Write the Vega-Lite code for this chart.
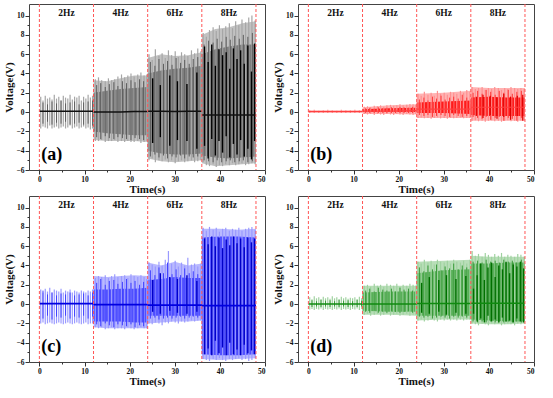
{
"$schema":"https://vega.github.io/schema/vega-lite/v6.json",
"padding":{"left":3,"top":3,"right":0,"bottom":0},
"background":"white",
"config":{"view":{"stroke":"#444","strokeWidth":1},
"font":"Liberation Serif",
"axis":{"labelFont":"Liberation Serif","labelFontWeight":"bold","labelFontSize":7.5,"titleFont":"Liberation Serif","titleFontWeight":"bold","titleFontSize":11,"domain":false,"grid":false,"tickColor":"#333","labelColor":"#111","titleColor":"#111","labelPadding":1,"titlePadding":1,"labelOverlap":false,"labelBound":false,"format":"d"}},
"datasets":{
"env":[
{"p":"a","g":1,"t":0,"h":0.1,"l":0.1,"h2":0.1,"l2":0.1,"z":0.1},{"p":"a","g":1,"t":12,"h":0.1,"l":0.1,"h2":0.1,"l2":0.1,"z":0.1},
{"p":"a","g":2,"t":12,"h":3.3,"l":-2.9,"h2":2.0,"l2":-2.0,"z":0.0},{"p":"a","g":2,"t":15,"h":3.2,"l":-3.0,"h2":2.2,"l2":-2.2,"z":0.0},{"p":"a","g":2,"t":18,"h":3.5,"l":-3.0,"h2":2.4,"l2":-2.3,"z":0.0},{"p":"a","g":2,"t":21,"h":3.8,"l":-3.0,"h2":2.5,"l2":-2.4,"z":0.05},{"p":"a","g":2,"t":24,"h":3.8,"l":-3.1,"h2":2.6,"l2":-2.4,"z":0.05},
{"p":"a","g":3,"t":24,"h":5.6,"l":-4.8,"h2":4.0,"l2":-4.0,"z":0.1},{"p":"a","g":3,"t":27,"h":6.0,"l":-5.1,"h2":4.3,"l2":-4.3,"z":0.1},{"p":"a","g":3,"t":30,"h":5.8,"l":-5.2,"h2":4.5,"l2":-4.4,"z":0.05},{"p":"a","g":3,"t":33,"h":5.9,"l":-5.1,"h2":4.6,"l2":-4.4,"z":0.1},{"p":"a","g":3,"t":36,"h":6.2,"l":-5.0,"h2":4.8,"l2":-4.3,"z":0.1},
{"p":"a","g":4,"t":36,"h":8.0,"l":-5.3,"h2":6.0,"l2":-4.5,"z":-0.3},{"p":"a","g":4,"t":39,"h":8.6,"l":-5.6,"h2":6.5,"l2":-4.7,"z":-0.3},{"p":"a","g":4,"t":42,"h":8.8,"l":-5.5,"h2":6.8,"l2":-4.8,"z":-0.3},{"p":"a","g":4,"t":45,"h":9.2,"l":-5.4,"h2":7.0,"l2":-4.7,"z":-0.3},{"p":"a","g":4,"t":48,"h":9.4,"l":-5.3,"h2":7.0,"l2":-4.6,"z":-0.3},
{"p":"b","g":1,"t":0,"h":0.2,"l":-0.05,"h2":0.1,"l2":0.0,"z":0.05},{"p":"b","g":1,"t":12,"h":0.2,"l":-0.05,"h2":0.1,"l2":0.0,"z":0.05},
{"p":"b","g":2,"t":12,"h":0.5,"l":-0.2,"h2":0.3,"l2":0.0,"z":0.1},{"p":"b","g":2,"t":18,"h":0.7,"l":-0.2,"h2":0.4,"l2":0.0,"z":0.1},{"p":"b","g":2,"t":24,"h":0.8,"l":-0.25,"h2":0.45,"l2":0.0,"z":0.15},
{"p":"b","g":3,"t":24,"h":1.9,"l":-0.6,"h2":1.0,"l2":-0.1,"z":0.3},{"p":"b","g":3,"t":30,"h":2.0,"l":-0.6,"h2":1.1,"l2":-0.1,"z":0.3},{"p":"b","g":3,"t":36,"h":2.2,"l":-0.6,"h2":1.2,"l2":-0.2,"z":0.3},
{"p":"b","g":4,"t":36,"h":2.6,"l":-0.9,"h2":1.5,"l2":-0.3,"z":0.5},{"p":"b","g":4,"t":40,"h":2.5,"l":-0.9,"h2":1.6,"l2":-0.4,"z":0.5},{"p":"b","g":4,"t":44,"h":2.5,"l":-0.9,"h2":1.5,"l2":-0.4,"z":0.5},{"p":"b","g":4,"t":48,"h":2.5,"l":-0.9,"h2":1.5,"l2":-0.4,"z":0.5},
{"p":"c","g":1,"t":0,"h":0.05,"l":0.05,"h2":0.05,"l2":0.05,"z":0.05},{"p":"c","g":1,"t":12,"h":0.05,"l":0.05,"h2":0.05,"l2":0.05,"z":0.05},
{"p":"c","g":2,"t":12,"h":2.9,"l":-2.4,"h2":1.5,"l2":-1.8,"z":-0.05},{"p":"c","g":2,"t":15,"h":2.8,"l":-2.5,"h2":1.5,"l2":-1.8,"z":-0.05},{"p":"c","g":2,"t":18,"h":2.9,"l":-2.5,"h2":1.6,"l2":-1.8,"z":-0.05},{"p":"c","g":2,"t":21,"h":3.0,"l":-2.5,"h2":1.6,"l2":-1.9,"z":-0.05},{"p":"c","g":2,"t":24,"h":2.9,"l":-2.5,"h2":1.7,"l2":-1.9,"z":-0.05},
{"p":"c","g":3,"t":24,"h":4.3,"l":-2.0,"h2":2.5,"l2":-1.2,"z":-0.1},{"p":"c","g":3,"t":27,"h":4.0,"l":-1.9,"h2":2.6,"l2":-1.2,"z":-0.1},{"p":"c","g":3,"t":30,"h":4.4,"l":-1.8,"h2":2.8,"l2":-1.2,"z":-0.1},{"p":"c","g":3,"t":33,"h":4.0,"l":-1.8,"h2":2.7,"l2":-1.2,"z":-0.1},{"p":"c","g":3,"t":36,"h":4.2,"l":-1.7,"h2":2.7,"l2":-1.2,"z":-0.1},
{"p":"c","g":4,"t":36,"h":7.8,"l":-5.7,"h2":6.9,"l2":-5.2,"z":-0.15},{"p":"c","g":4,"t":40,"h":7.8,"l":-5.8,"h2":7.0,"l2":-5.3,"z":-0.15},{"p":"c","g":4,"t":44,"h":7.7,"l":-5.7,"h2":7.0,"l2":-5.3,"z":-0.15},{"p":"c","g":4,"t":48,"h":7.8,"l":-5.6,"h2":6.9,"l2":-5.2,"z":-0.15},
{"p":"d","g":1,"t":0,"h":0.0,"l":0.0,"h2":0.0,"l2":0.0,"z":0.0},{"p":"d","g":1,"t":12,"h":0.0,"l":0.0,"h2":0.0,"l2":0.0,"z":0.0},
{"p":"d","g":2,"t":12,"h":1.9,"l":-1.1,"h2":1.2,"l2":-0.7,"z":0.0},{"p":"d","g":2,"t":18,"h":1.9,"l":-1.1,"h2":1.3,"l2":-0.8,"z":0.0},{"p":"d","g":2,"t":24,"h":1.9,"l":-1.2,"h2":1.3,"l2":-0.8,"z":0.0},
{"p":"d","g":3,"t":24,"h":4.4,"l":-1.7,"h2":3.2,"l2":-1.2,"z":0.05},{"p":"d","g":3,"t":30,"h":4.5,"l":-1.6,"h2":3.5,"l2":-1.2,"z":0.05},{"p":"d","g":3,"t":36,"h":4.6,"l":-1.6,"h2":3.6,"l2":-1.2,"z":0.05},
{"p":"d","g":4,"t":36,"h":5.0,"l":-2.0,"h2":4.2,"l2":-1.6,"z":0.1},{"p":"d","g":4,"t":40,"h":4.9,"l":-2.1,"h2":4.2,"l2":-1.7,"z":0.1},{"p":"d","g":4,"t":44,"h":4.9,"l":-2.1,"h2":4.3,"l2":-1.8,"z":0.1},{"p":"d","g":4,"t":48,"h":4.9,"l":-2.0,"h2":4.3,"l2":-1.8,"z":0.1}
],
"spk":[
{"p":"a","k":"l","t":0.3,"l":-1.7,"h":1.6},{"p":"a","k":"l","t":0.8,"l":-1.5,"h":1.2},{"p":"a","k":"l","t":1.3,"l":-1.6,"h":1.7},{"p":"a","k":"l","t":1.8,"l":-1.7,"h":1.4},{"p":"a","k":"l","t":2.3,"l":-1.4,"h":1.5},{"p":"a","k":"l","t":2.8,"l":-1.7,"h":1.3},{"p":"a","k":"l","t":3.3,"l":-1.6,"h":1.8},{"p":"a","k":"l","t":3.8,"l":-1.5,"h":1.4},{"p":"a","k":"l","t":4.3,"l":-1.7,"h":1.6},{"p":"a","k":"l","t":4.8,"l":-1.6,"h":1.2},{"p":"a","k":"l","t":5.3,"l":-1.5,"h":1.7},{"p":"a","k":"l","t":5.8,"l":-1.7,"h":1.5},{"p":"a","k":"l","t":6.3,"l":-1.6,"h":1.4},{"p":"a","k":"l","t":6.8,"l":-1.4,"h":1.8},{"p":"a","k":"l","t":7.3,"l":-1.7,"h":1.3},{"p":"a","k":"l","t":7.8,"l":-1.6,"h":1.6},{"p":"a","k":"l","t":8.3,"l":-1.5,"h":1.5},{"p":"a","k":"l","t":8.8,"l":-1.7,"h":1.7},{"p":"a","k":"l","t":9.3,"l":-1.6,"h":1.2},{"p":"a","k":"l","t":9.8,"l":-1.5,"h":1.6},{"p":"a","k":"l","t":10.3,"l":-1.7,"h":1.4},{"p":"a","k":"l","t":10.8,"l":-1.6,"h":1.8},{"p":"a","k":"l","t":11.3,"l":-1.8,"h":1.5},{"p":"a","k":"l","t":11.8,"l":-1.7,"h":1.7},
{"p":"a","k":"m","t":0.8,"l":-1.2,"h":1.0},{"p":"a","k":"m","t":1.8,"l":-1.0,"h":0.8},{"p":"a","k":"m","t":2.8,"l":-1.3,"h":1.1},{"p":"a","k":"m","t":3.8,"l":-1.1,"h":0.9},{"p":"a","k":"m","t":4.8,"l":-1.2,"h":1.2},{"p":"a","k":"m","t":5.8,"l":-1.0,"h":0.9},{"p":"a","k":"m","t":6.8,"l":-1.3,"h":1.0},{"p":"a","k":"m","t":7.8,"l":-1.2,"h":1.1},{"p":"a","k":"m","t":8.8,"l":-1.1,"h":0.8},{"p":"a","k":"m","t":9.8,"l":-1.3,"h":1.0},{"p":"a","k":"m","t":10.8,"l":-1.2,"h":1.1},{"p":"a","k":"m","t":11.8,"l":-1.4,"h":1.2},
{"p":"a","k":"l","t":12.4,"l":-3.0,"h":3.4},{"p":"a","k":"l","t":13.1,"l":-3.0,"h":3.6},{"p":"a","k":"l","t":13.8,"l":-2.9,"h":3.3},{"p":"a","k":"l","t":14.6,"l":-3.1,"h":3.2},{"p":"a","k":"l","t":15.3,"l":-3.0,"h":3.5},{"p":"a","k":"l","t":16.0,"l":-3.0,"h":3.3},{"p":"a","k":"l","t":16.7,"l":-2.9,"h":3.4},{"p":"a","k":"l","t":17.4,"l":-3.1,"h":3.7},{"p":"a","k":"l","t":18.2,"l":-3.0,"h":3.9},{"p":"a","k":"l","t":18.9,"l":-3.1,"h":3.6},{"p":"a","k":"l","t":19.6,"l":-3.0,"h":3.8},{"p":"a","k":"l","t":20.3,"l":-3.1,"h":4.0},{"p":"a","k":"l","t":21.0,"l":-3.1,"h":3.7},{"p":"a","k":"l","t":21.8,"l":-3.0,"h":3.9},{"p":"a","k":"l","t":22.5,"l":-3.2,"h":4.1},{"p":"a","k":"l","t":23.2,"l":-3.1,"h":3.8},{"p":"a","k":"l","t":23.8,"l":-3.0,"h":3.9},
{"p":"a","k":"m","t":12.7,"l":-2.6,"h":2.8},{"p":"a","k":"m","t":13.6,"l":-2.8,"h":3.0},{"p":"a","k":"m","t":14.6,"l":-2.5,"h":2.6},{"p":"a","k":"m","t":15.5,"l":-2.7,"h":2.9},{"p":"a","k":"m","t":16.5,"l":-2.8,"h":3.1},{"p":"a","k":"m","t":17.4,"l":-2.6,"h":2.7},{"p":"a","k":"m","t":18.4,"l":-2.7,"h":3.2},{"p":"a","k":"m","t":19.3,"l":-2.8,"h":3.0},{"p":"a","k":"m","t":20.3,"l":-2.9,"h":3.3},{"p":"a","k":"m","t":21.2,"l":-2.7,"h":3.1},{"p":"a","k":"m","t":22.2,"l":-2.8,"h":3.4},{"p":"a","k":"m","t":23.1,"l":-2.9,"h":3.2},
{"p":"a","k":"l","t":24.3,"l":-5.0,"h":6.0},{"p":"a","k":"l","t":25.0,"l":-4.8,"h":5.4},{"p":"a","k":"l","t":25.7,"l":-5.2,"h":6.5},{"p":"a","k":"l","t":26.5,"l":-5.0,"h":5.8},{"p":"a","k":"l","t":27.2,"l":-5.1,"h":6.1},{"p":"a","k":"l","t":27.9,"l":-4.9,"h":5.6},{"p":"a","k":"l","t":28.6,"l":-5.2,"h":6.4},{"p":"a","k":"l","t":29.3,"l":-5.0,"h":5.9},{"p":"a","k":"l","t":30.1,"l":-5.3,"h":6.3},{"p":"a","k":"l","t":30.8,"l":-5.1,"h":5.7},{"p":"a","k":"l","t":31.5,"l":-5.0,"h":6.2},{"p":"a","k":"l","t":32.2,"l":-5.2,"h":6.0},{"p":"a","k":"l","t":32.9,"l":-5.1,"h":5.8},{"p":"a","k":"l","t":33.7,"l":-5.0,"h":6.4},{"p":"a","k":"l","t":34.4,"l":-5.2,"h":6.1},{"p":"a","k":"l","t":35.1,"l":-5.1,"h":6.6},{"p":"a","k":"l","t":35.8,"l":-5.0,"h":6.3},
{"p":"a","k":"m","t":24.6,"l":-4.6,"h":5.2},{"p":"a","k":"m","t":25.6,"l":-4.4,"h":4.8},{"p":"a","k":"m","t":26.5,"l":-4.7,"h":5.5},{"p":"a","k":"m","t":27.5,"l":-4.5,"h":5.0},{"p":"a","k":"m","t":28.4,"l":-4.8,"h":5.3},{"p":"a","k":"m","t":29.4,"l":-4.6,"h":4.9},{"p":"a","k":"m","t":30.3,"l":-4.7,"h":5.6},{"p":"a","k":"m","t":31.3,"l":-4.5,"h":5.1},{"p":"a","k":"m","t":32.2,"l":-4.8,"h":5.4},{"p":"a","k":"m","t":33.2,"l":-4.6,"h":5.0},{"p":"a","k":"m","t":34.1,"l":-4.7,"h":5.5},{"p":"a","k":"m","t":35.1,"l":-4.6,"h":5.7},
{"p":"a","k":"d","t":25.1,"l":-3.2,"h":3.5},{"p":"a","k":"d","t":26.8,"l":-2.6,"h":2.8},{"p":"a","k":"d","t":28.9,"l":-3.5,"h":3.8},{"p":"a","k":"d","t":30.6,"l":-2.9,"h":3.2},{"p":"a","k":"d","t":32.7,"l":-3.0,"h":2.9},{"p":"a","k":"d","t":34.9,"l":-3.8,"h":4.1},
{"p":"a","k":"l","t":36.3,"l":-5.2,"h":8.2},{"p":"a","k":"l","t":37.0,"l":-5.5,"h":7.8},{"p":"a","k":"l","t":37.7,"l":-5.6,"h":8.5},{"p":"a","k":"l","t":38.5,"l":-5.4,"h":8.8},{"p":"a","k":"l","t":39.2,"l":-5.7,"h":8.4},{"p":"a","k":"l","t":39.9,"l":-5.5,"h":9.0},{"p":"a","k":"l","t":40.6,"l":-5.6,"h":8.6},{"p":"a","k":"l","t":41.3,"l":-5.4,"h":8.9},{"p":"a","k":"l","t":42.1,"l":-5.5,"h":9.2},{"p":"a","k":"l","t":42.8,"l":-5.3,"h":8.7},{"p":"a","k":"l","t":43.5,"l":-5.5,"h":9.4},{"p":"a","k":"l","t":44.2,"l":-5.4,"h":9.0},{"p":"a","k":"l","t":44.9,"l":-5.3,"h":9.6},{"p":"a","k":"l","t":45.7,"l":-5.5,"h":9.3},{"p":"a","k":"l","t":46.4,"l":-5.4,"h":9.8},{"p":"a","k":"l","t":47.1,"l":-5.3,"h":10.0},{"p":"a","k":"l","t":47.8,"l":-5.4,"h":9.5},
{"p":"a","k":"m","t":36.5,"l":-5.0,"h":7.0},{"p":"a","k":"m","t":37.5,"l":-5.1,"h":7.4},{"p":"a","k":"m","t":38.5,"l":-5.2,"h":7.2},{"p":"a","k":"m","t":39.4,"l":-5.0,"h":7.6},{"p":"a","k":"m","t":40.4,"l":-5.2,"h":7.3},{"p":"a","k":"m","t":41.4,"l":-5.1,"h":7.8},{"p":"a","k":"m","t":42.3,"l":-5.0,"h":7.5},{"p":"a","k":"m","t":43.3,"l":-5.2,"h":7.9},{"p":"a","k":"m","t":44.3,"l":-5.1,"h":7.6},{"p":"a","k":"m","t":45.2,"l":-5.0,"h":8.0},{"p":"a","k":"m","t":46.2,"l":-5.2,"h":7.8},{"p":"a","k":"m","t":47.2,"l":-5.1,"h":8.2},
{"p":"a","k":"d","t":36.6,"l":-3.5,"h":6.8},{"p":"a","k":"d","t":37.4,"l":-4.8,"h":5.2},{"p":"a","k":"d","t":38.2,"l":-2.8,"h":7.0},{"p":"a","k":"d","t":39.0,"l":-4.5,"h":4.8},{"p":"a","k":"d","t":39.8,"l":-3.0,"h":6.5},{"p":"a","k":"d","t":40.6,"l":-4.2,"h":5.9},{"p":"a","k":"d","t":41.4,"l":-2.5,"h":6.2},{"p":"a","k":"d","t":42.2,"l":-4.7,"h":4.5},{"p":"a","k":"d","t":43.0,"l":-3.3,"h":6.6},{"p":"a","k":"d","t":43.8,"l":-4.4,"h":5.5},{"p":"a","k":"d","t":44.6,"l":-2.9,"h":6.4},{"p":"a","k":"d","t":45.4,"l":-4.6,"h":5.0},{"p":"a","k":"d","t":46.2,"l":-3.8,"h":6.9},{"p":"a","k":"d","t":47.0,"l":-4.9,"h":4.2},{"p":"a","k":"d","t":47.7,"l":-3.0,"h":7.1},

{"p":"b","k":"l","t":0.3,"l":-0.1,"h":0.2},{"p":"b","k":"l","t":1.3,"l":-0.1,"h":0.25},{"p":"b","k":"l","t":2.3,"l":-0.1,"h":0.15},{"p":"b","k":"l","t":3.3,"l":-0.1,"h":0.2},{"p":"b","k":"l","t":4.3,"l":-0.1,"h":0.25},{"p":"b","k":"l","t":5.3,"l":-0.1,"h":0.2},{"p":"b","k":"l","t":6.3,"l":-0.1,"h":0.15},{"p":"b","k":"l","t":7.3,"l":-0.1,"h":0.25},{"p":"b","k":"l","t":8.3,"l":-0.1,"h":0.2},{"p":"b","k":"l","t":9.3,"l":-0.1,"h":0.2},{"p":"b","k":"l","t":10.3,"l":-0.1,"h":0.25},{"p":"b","k":"l","t":11.3,"l":-0.1,"h":0.2},
{"p":"b","k":"l","t":12.4,"l":-0.2,"h":0.55},{"p":"b","k":"l","t":13.1,"l":-0.25,"h":0.6},{"p":"b","k":"l","t":13.8,"l":-0.2,"h":0.5},{"p":"b","k":"l","t":14.6,"l":-0.3,"h":0.65},{"p":"b","k":"l","t":15.3,"l":-0.2,"h":0.6},{"p":"b","k":"l","t":16.0,"l":-0.25,"h":0.7},{"p":"b","k":"l","t":16.7,"l":-0.3,"h":0.55},{"p":"b","k":"l","t":17.4,"l":-0.2,"h":0.7},{"p":"b","k":"l","t":18.2,"l":-0.25,"h":0.75},{"p":"b","k":"l","t":18.9,"l":-0.3,"h":0.65},{"p":"b","k":"l","t":19.6,"l":-0.2,"h":0.7},{"p":"b","k":"l","t":20.3,"l":-0.25,"h":0.8},{"p":"b","k":"l","t":21.0,"l":-0.3,"h":0.7},{"p":"b","k":"l","t":21.8,"l":-0.2,"h":0.75},{"p":"b","k":"l","t":22.5,"l":-0.25,"h":0.85},{"p":"b","k":"l","t":23.2,"l":-0.3,"h":0.8},{"p":"b","k":"l","t":23.8,"l":-0.2,"h":0.75},
{"p":"b","k":"m","t":12.7,"l":-0.1,"h":0.4},{"p":"b","k":"m","t":13.6,"l":-0.1,"h":0.45},{"p":"b","k":"m","t":14.6,"l":-0.1,"h":0.35},{"p":"b","k":"m","t":15.5,"l":-0.1,"h":0.5},{"p":"b","k":"m","t":16.5,"l":-0.1,"h":0.4},{"p":"b","k":"m","t":17.4,"l":-0.1,"h":0.45},{"p":"b","k":"m","t":18.4,"l":-0.1,"h":0.5},{"p":"b","k":"m","t":19.3,"l":-0.1,"h":0.4},{"p":"b","k":"m","t":20.3,"l":-0.1,"h":0.55},{"p":"b","k":"m","t":21.2,"l":-0.1,"h":0.5},{"p":"b","k":"m","t":22.2,"l":-0.1,"h":0.45},{"p":"b","k":"m","t":23.1,"l":-0.1,"h":0.55},
{"p":"b","k":"l","t":24.3,"l":-0.6,"h":1.9},{"p":"b","k":"l","t":25.0,"l":-0.55,"h":1.7},{"p":"b","k":"l","t":25.7,"l":-0.65,"h":2.1},{"p":"b","k":"l","t":26.5,"l":-0.6,"h":1.8},{"p":"b","k":"l","t":27.2,"l":-0.7,"h":2.0},{"p":"b","k":"l","t":27.9,"l":-0.6,"h":1.7},{"p":"b","k":"l","t":28.6,"l":-0.55,"h":2.2},{"p":"b","k":"l","t":29.3,"l":-0.65,"h":1.9},{"p":"b","k":"l","t":30.1,"l":-0.6,"h":2.0},{"p":"b","k":"l","t":30.8,"l":-0.7,"h":1.8},{"p":"b","k":"l","t":31.5,"l":-0.6,"h":2.1},{"p":"b","k":"l","t":32.2,"l":-0.65,"h":2.0},{"p":"b","k":"l","t":32.9,"l":-0.6,"h":1.9},{"p":"b","k":"l","t":33.7,"l":-0.55,"h":2.2},{"p":"b","k":"l","t":34.4,"l":-0.65,"h":2.0},{"p":"b","k":"l","t":35.1,"l":-0.6,"h":2.3},{"p":"b","k":"l","t":35.8,"l":-0.6,"h":2.1},
{"p":"b","k":"m","t":24.6,"l":-0.3,"h":1.3},{"p":"b","k":"m","t":25.6,"l":-0.4,"h":1.5},{"p":"b","k":"m","t":26.5,"l":-0.3,"h":1.2},{"p":"b","k":"m","t":27.5,"l":-0.5,"h":1.6},{"p":"b","k":"m","t":28.4,"l":-0.4,"h":1.4},{"p":"b","k":"m","t":29.4,"l":-0.3,"h":1.7},{"p":"b","k":"m","t":30.3,"l":-0.4,"h":1.3},{"p":"b","k":"m","t":31.3,"l":-0.5,"h":1.5},{"p":"b","k":"m","t":32.2,"l":-0.3,"h":1.6},{"p":"b","k":"m","t":33.2,"l":-0.4,"h":1.4},{"p":"b","k":"m","t":34.1,"l":-0.5,"h":1.8},{"p":"b","k":"m","t":35.1,"l":-0.4,"h":1.5},
{"p":"b","k":"l","t":36.3,"l":-0.9,"h":2.6},{"p":"b","k":"l","t":37.0,"l":-0.85,"h":2.4},{"p":"b","k":"l","t":37.7,"l":-0.95,"h":2.5},{"p":"b","k":"l","t":38.5,"l":-0.9,"h":2.6},{"p":"b","k":"l","t":39.2,"l":-1.0,"h":2.3},{"p":"b","k":"l","t":39.9,"l":-0.9,"h":2.5},{"p":"b","k":"l","t":40.6,"l":-0.85,"h":2.4},{"p":"b","k":"l","t":41.3,"l":-0.95,"h":2.6},{"p":"b","k":"l","t":42.1,"l":-0.9,"h":2.5},{"p":"b","k":"l","t":42.8,"l":-1.0,"h":2.3},{"p":"b","k":"l","t":43.5,"l":-0.9,"h":2.5},{"p":"b","k":"l","t":44.2,"l":-0.85,"h":2.4},{"p":"b","k":"l","t":44.9,"l":-0.95,"h":2.6},{"p":"b","k":"l","t":45.7,"l":-0.9,"h":2.5},{"p":"b","k":"l","t":46.4,"l":-1.0,"h":2.4},{"p":"b","k":"l","t":47.1,"l":-0.9,"h":2.5},{"p":"b","k":"l","t":47.8,"l":-0.9,"h":2.4},
{"p":"b","k":"m","t":36.5,"l":-0.5,"h":2.0},{"p":"b","k":"m","t":37.5,"l":-0.6,"h":2.2},{"p":"b","k":"m","t":38.5,"l":-0.7,"h":1.9},{"p":"b","k":"m","t":39.4,"l":-0.5,"h":2.3},{"p":"b","k":"m","t":40.4,"l":-0.8,"h":2.1},{"p":"b","k":"m","t":41.4,"l":-0.6,"h":1.8},{"p":"b","k":"m","t":42.3,"l":-0.5,"h":2.2},{"p":"b","k":"m","t":43.3,"l":-0.9,"h":2.0},{"p":"b","k":"m","t":44.3,"l":-0.6,"h":2.3},{"p":"b","k":"m","t":45.2,"l":-0.7,"h":1.9},{"p":"b","k":"m","t":46.2,"l":-0.9,"h":2.1},{"p":"b","k":"m","t":47.2,"l":-0.6,"h":2.2},
{"p":"b","k":"d","t":37.2,"l":-0.4,"h":1.6},{"p":"b","k":"d","t":38.7,"l":-0.6,"h":1.8},{"p":"b","k":"d","t":40.3,"l":-0.3,"h":1.7},{"p":"b","k":"d","t":41.8,"l":-0.7,"h":1.5},{"p":"b","k":"d","t":43.3,"l":-0.5,"h":1.9},{"p":"b","k":"d","t":44.8,"l":-0.8,"h":1.6},{"p":"b","k":"d","t":46.3,"l":-0.4,"h":1.7},{"p":"b","k":"d","t":47.5,"l":-0.9,"h":1.8},

{"p":"c","k":"l","t":0.3,"l":-2.0,"h":1.5},{"p":"c","k":"l","t":0.8,"l":-1.9,"h":1.2},{"p":"c","k":"l","t":1.3,"l":-2.1,"h":1.6},{"p":"c","k":"l","t":1.8,"l":-2.0,"h":1.3},{"p":"c","k":"l","t":2.3,"l":-1.9,"h":1.7},{"p":"c","k":"l","t":2.8,"l":-2.0,"h":1.2},{"p":"c","k":"l","t":3.3,"l":-2.1,"h":1.5},{"p":"c","k":"l","t":3.8,"l":-2.0,"h":1.4},{"p":"c","k":"l","t":4.3,"l":-1.9,"h":1.3},{"p":"c","k":"l","t":4.8,"l":-2.0,"h":1.6},{"p":"c","k":"l","t":5.3,"l":-2.1,"h":1.2},{"p":"c","k":"l","t":5.8,"l":-2.0,"h":1.4},{"p":"c","k":"l","t":6.3,"l":-1.9,"h":1.3},{"p":"c","k":"l","t":6.8,"l":-2.0,"h":1.5},{"p":"c","k":"l","t":7.3,"l":-2.1,"h":1.2},{"p":"c","k":"l","t":7.8,"l":-2.0,"h":1.4},{"p":"c","k":"l","t":8.3,"l":-1.9,"h":1.3},{"p":"c","k":"l","t":8.8,"l":-2.0,"h":1.2},{"p":"c","k":"l","t":9.3,"l":-2.1,"h":1.4},{"p":"c","k":"l","t":9.8,"l":-2.0,"h":1.3},{"p":"c","k":"l","t":10.3,"l":-1.9,"h":1.2},{"p":"c","k":"l","t":10.8,"l":-2.1,"h":1.4},{"p":"c","k":"l","t":11.3,"l":-2.0,"h":1.3},{"p":"c","k":"l","t":11.8,"l":-2.0,"h":1.5},
{"p":"c","k":"m","t":0.8,"l":-1.5,"h":1.4},{"p":"c","k":"m","t":1.8,"l":-1.2,"h":1.0},{"p":"c","k":"m","t":2.8,"l":-1.6,"h":1.2},{"p":"c","k":"m","t":3.8,"l":-1.3,"h":0.9},{"p":"c","k":"m","t":4.8,"l":-1.4,"h":1.1},{"p":"c","k":"m","t":5.8,"l":-1.2,"h":1.0},{"p":"c","k":"m","t":6.8,"l":-1.5,"h":1.2},{"p":"c","k":"m","t":7.8,"l":-1.3,"h":0.9},{"p":"c","k":"m","t":8.8,"l":-1.4,"h":1.0},{"p":"c","k":"m","t":9.8,"l":-1.2,"h":1.1},{"p":"c","k":"m","t":10.8,"l":-1.5,"h":0.9},{"p":"c","k":"m","t":11.8,"l":-1.3,"h":1.2},
{"p":"c","k":"l","t":12.4,"l":-2.4,"h":2.7},{"p":"c","k":"l","t":13.1,"l":-2.5,"h":2.9},{"p":"c","k":"l","t":13.8,"l":-2.4,"h":2.8},{"p":"c","k":"l","t":14.6,"l":-2.6,"h":3.0},{"p":"c","k":"l","t":15.3,"l":-2.5,"h":2.7},{"p":"c","k":"l","t":16.0,"l":-2.4,"h":2.9},{"p":"c","k":"l","t":16.7,"l":-2.6,"h":3.1},{"p":"c","k":"l","t":17.4,"l":-2.5,"h":2.8},{"p":"c","k":"l","t":18.2,"l":-2.5,"h":2.9},{"p":"c","k":"l","t":18.9,"l":-2.6,"h":3.0},{"p":"c","k":"l","t":19.6,"l":-2.4,"h":2.7},{"p":"c","k":"l","t":20.3,"l":-2.5,"h":3.1},{"p":"c","k":"l","t":21.0,"l":-2.6,"h":2.9},{"p":"c","k":"l","t":21.8,"l":-2.5,"h":2.8},{"p":"c","k":"l","t":22.5,"l":-2.4,"h":3.0},{"p":"c","k":"l","t":23.2,"l":-2.5,"h":2.8},{"p":"c","k":"l","t":23.8,"l":-2.5,"h":2.6},
{"p":"c","k":"m","t":12.7,"l":-2.1,"h":2.2},{"p":"c","k":"m","t":13.6,"l":-2.3,"h":2.6},{"p":"c","k":"m","t":14.6,"l":-2.0,"h":2.0},{"p":"c","k":"m","t":15.5,"l":-2.2,"h":2.4},{"p":"c","k":"m","t":16.5,"l":-2.4,"h":2.5},{"p":"c","k":"m","t":17.4,"l":-2.1,"h":2.1},{"p":"c","k":"m","t":18.4,"l":-2.2,"h":2.3},{"p":"c","k":"m","t":19.3,"l":-2.3,"h":2.6},{"p":"c","k":"m","t":20.3,"l":-2.1,"h":2.2},{"p":"c","k":"m","t":21.2,"l":-2.4,"h":2.4},{"p":"c","k":"m","t":22.2,"l":-2.2,"h":2.0},{"p":"c","k":"m","t":23.1,"l":-2.3,"h":2.3},
{"p":"c","k":"l","t":24.3,"l":-2.0,"h":4.3},{"p":"c","k":"l","t":25.0,"l":-2.1,"h":4.1},{"p":"c","k":"l","t":25.7,"l":-1.9,"h":3.9},{"p":"c","k":"l","t":26.5,"l":-2.0,"h":4.4},{"p":"c","k":"l","t":27.2,"l":-2.2,"h":4.0},{"p":"c","k":"l","t":27.9,"l":-1.9,"h":4.6},{"p":"c","k":"l","t":28.6,"l":-2.0,"h":5.5},{"p":"c","k":"l","t":29.3,"l":-1.8,"h":4.2},{"p":"c","k":"l","t":30.1,"l":-1.9,"h":4.5},{"p":"c","k":"l","t":30.8,"l":-2.0,"h":3.9},{"p":"c","k":"l","t":31.5,"l":-1.8,"h":4.3},{"p":"c","k":"l","t":32.2,"l":-1.9,"h":4.0},{"p":"c","k":"l","t":32.9,"l":-1.8,"h":4.8},{"p":"c","k":"l","t":33.7,"l":-1.7,"h":4.1},{"p":"c","k":"l","t":34.4,"l":-1.8,"h":4.2},{"p":"c","k":"l","t":35.1,"l":-1.7,"h":3.9},{"p":"c","k":"l","t":35.8,"l":-1.7,"h":4.2},
{"p":"c","k":"m","t":24.6,"l":-1.5,"h":3.5},{"p":"c","k":"m","t":25.6,"l":-1.4,"h":3.0},{"p":"c","k":"m","t":26.5,"l":-1.6,"h":3.8},{"p":"c","k":"m","t":27.5,"l":-1.5,"h":3.2},{"p":"c","k":"m","t":28.4,"l":-1.4,"h":4.3},{"p":"c","k":"m","t":29.4,"l":-1.5,"h":3.1},{"p":"c","k":"m","t":30.3,"l":-1.4,"h":3.6},{"p":"c","k":"m","t":31.3,"l":-1.3,"h":3.0},{"p":"c","k":"m","t":32.2,"l":-1.5,"h":3.7},{"p":"c","k":"m","t":33.2,"l":-1.4,"h":3.2},{"p":"c","k":"m","t":34.1,"l":-1.3,"h":3.4},{"p":"c","k":"m","t":35.1,"l":-1.4,"h":3.1},
{"p":"c","k":"d","t":25.1,"l":-0.8,"h":2.5},{"p":"c","k":"d","t":26.8,"l":-1.0,"h":3.2},{"p":"c","k":"d","t":28.9,"l":-0.7,"h":2.8},{"p":"c","k":"d","t":30.6,"l":-0.9,"h":2.6},{"p":"c","k":"d","t":32.7,"l":-1.0,"h":3.0},{"p":"c","k":"d","t":34.9,"l":-0.8,"h":2.4},
{"p":"c","k":"l","t":36.3,"l":-5.7,"h":7.9},{"p":"c","k":"l","t":37.0,"l":-5.8,"h":7.6},{"p":"c","k":"l","t":37.7,"l":-5.9,"h":8.0},{"p":"c","k":"l","t":38.5,"l":-5.7,"h":7.7},{"p":"c","k":"l","t":39.2,"l":-5.8,"h":7.9},{"p":"c","k":"l","t":39.9,"l":-5.6,"h":7.5},{"p":"c","k":"l","t":40.6,"l":-5.8,"h":7.8},{"p":"c","k":"l","t":41.3,"l":-5.9,"h":7.9},{"p":"c","k":"l","t":42.1,"l":-5.7,"h":7.6},{"p":"c","k":"l","t":42.8,"l":-5.8,"h":7.8},{"p":"c","k":"l","t":43.5,"l":-5.7,"h":7.7},{"p":"c","k":"l","t":44.2,"l":-5.6,"h":7.9},{"p":"c","k":"l","t":44.9,"l":-5.8,"h":7.6},{"p":"c","k":"l","t":45.7,"l":-5.7,"h":7.8},{"p":"c","k":"l","t":46.4,"l":-5.9,"h":7.9},{"p":"c","k":"l","t":47.1,"l":-5.8,"h":8.0},{"p":"c","k":"l","t":47.8,"l":-5.6,"h":7.7},
{"p":"c","k":"d","t":36.6,"l":-5.2,"h":6.8},{"p":"c","k":"d","t":37.4,"l":-4.6,"h":6.2},{"p":"c","k":"d","t":38.2,"l":-5.3,"h":7.0},{"p":"c","k":"d","t":39.0,"l":-3.8,"h":6.0},{"p":"c","k":"d","t":39.8,"l":-5.1,"h":6.9},{"p":"c","k":"d","t":40.6,"l":-4.5,"h":5.8},{"p":"c","k":"d","t":41.4,"l":-5.3,"h":6.7},{"p":"c","k":"d","t":42.2,"l":-4.0,"h":6.1},{"p":"c","k":"d","t":43.0,"l":-5.2,"h":7.0},{"p":"c","k":"d","t":43.8,"l":-4.7,"h":6.3},{"p":"c","k":"d","t":44.6,"l":-5.3,"h":6.8},{"p":"c","k":"d","t":45.4,"l":-4.2,"h":5.9},{"p":"c","k":"d","t":46.2,"l":-5.1,"h":6.9},{"p":"c","k":"d","t":47.0,"l":-4.8,"h":6.4},{"p":"c","k":"d","t":47.7,"l":-5.2,"h":6.8},

{"p":"d","k":"l","t":0.3,"l":-0.55,"h":0.7},{"p":"d","k":"l","t":0.8,"l":-0.5,"h":0.5},{"p":"d","k":"l","t":1.3,"l":-0.6,"h":0.8},{"p":"d","k":"l","t":1.8,"l":-0.5,"h":0.6},{"p":"d","k":"l","t":2.3,"l":-0.55,"h":0.7},{"p":"d","k":"l","t":2.8,"l":-0.45,"h":0.5},{"p":"d","k":"l","t":3.3,"l":-0.6,"h":0.75},{"p":"d","k":"l","t":3.8,"l":-0.5,"h":0.6},{"p":"d","k":"l","t":4.3,"l":-0.55,"h":0.7},{"p":"d","k":"l","t":4.8,"l":-0.5,"h":0.55},{"p":"d","k":"l","t":5.3,"l":-0.6,"h":0.8},{"p":"d","k":"l","t":5.8,"l":-0.5,"h":0.6},{"p":"d","k":"l","t":6.3,"l":-0.55,"h":0.7},{"p":"d","k":"l","t":6.8,"l":-0.45,"h":0.5},{"p":"d","k":"l","t":7.3,"l":-0.6,"h":0.75},{"p":"d","k":"l","t":7.8,"l":-0.5,"h":0.6},{"p":"d","k":"l","t":8.3,"l":-0.55,"h":0.7},{"p":"d","k":"l","t":8.8,"l":-0.5,"h":0.55},{"p":"d","k":"l","t":9.3,"l":-0.6,"h":0.65},{"p":"d","k":"l","t":9.8,"l":-0.5,"h":0.6},{"p":"d","k":"l","t":10.3,"l":-0.55,"h":0.7},{"p":"d","k":"l","t":10.8,"l":-0.45,"h":0.5},{"p":"d","k":"l","t":11.3,"l":-0.6,"h":0.75},{"p":"d","k":"l","t":11.8,"l":-0.5,"h":0.6},
{"p":"d","k":"m","t":0.8,"l":-0.3,"h":0.4},{"p":"d","k":"m","t":1.8,"l":-0.25,"h":0.3},{"p":"d","k":"m","t":2.8,"l":-0.3,"h":0.45},{"p":"d","k":"m","t":3.8,"l":-0.25,"h":0.35},{"p":"d","k":"m","t":4.8,"l":-0.3,"h":0.4},{"p":"d","k":"m","t":5.8,"l":-0.25,"h":0.3},{"p":"d","k":"m","t":6.8,"l":-0.3,"h":0.45},{"p":"d","k":"m","t":7.8,"l":-0.25,"h":0.35},{"p":"d","k":"m","t":8.8,"l":-0.3,"h":0.4},{"p":"d","k":"m","t":9.8,"l":-0.25,"h":0.3},{"p":"d","k":"m","t":10.8,"l":-0.3,"h":0.45},{"p":"d","k":"m","t":11.8,"l":-0.25,"h":0.35},
{"p":"d","k":"l","t":12.4,"l":-1.1,"h":1.9},{"p":"d","k":"l","t":13.1,"l":-1.0,"h":2.0},{"p":"d","k":"l","t":13.8,"l":-1.2,"h":1.8},{"p":"d","k":"l","t":14.6,"l":-1.1,"h":2.1},{"p":"d","k":"l","t":15.3,"l":-1.0,"h":1.9},{"p":"d","k":"l","t":16.0,"l":-1.2,"h":2.0},{"p":"d","k":"l","t":16.7,"l":-1.1,"h":1.8},{"p":"d","k":"l","t":17.4,"l":-1.0,"h":2.1},{"p":"d","k":"l","t":18.2,"l":-1.2,"h":2.0},{"p":"d","k":"l","t":18.9,"l":-1.1,"h":1.9},{"p":"d","k":"l","t":19.6,"l":-1.0,"h":2.1},{"p":"d","k":"l","t":20.3,"l":-1.2,"h":1.8},{"p":"d","k":"l","t":21.0,"l":-1.1,"h":2.0},{"p":"d","k":"l","t":21.8,"l":-1.0,"h":1.9},{"p":"d","k":"l","t":22.5,"l":-1.2,"h":2.1},{"p":"d","k":"l","t":23.2,"l":-1.1,"h":2.0},{"p":"d","k":"l","t":23.8,"l":-1.1,"h":1.9},
{"p":"d","k":"m","t":12.7,"l":-0.8,"h":1.4},{"p":"d","k":"m","t":13.6,"l":-0.9,"h":1.6},{"p":"d","k":"m","t":14.6,"l":-0.7,"h":1.3},{"p":"d","k":"m","t":15.5,"l":-0.9,"h":1.7},{"p":"d","k":"m","t":16.5,"l":-0.8,"h":1.5},{"p":"d","k":"m","t":17.4,"l":-0.9,"h":1.4},{"p":"d","k":"m","t":18.4,"l":-0.7,"h":1.6},{"p":"d","k":"m","t":19.3,"l":-0.8,"h":1.3},{"p":"d","k":"m","t":20.3,"l":-0.9,"h":1.7},{"p":"d","k":"m","t":21.2,"l":-0.8,"h":1.5},{"p":"d","k":"m","t":22.2,"l":-0.7,"h":1.6},{"p":"d","k":"m","t":23.1,"l":-0.9,"h":1.4},
{"p":"d","k":"l","t":24.3,"l":-1.7,"h":4.4},{"p":"d","k":"l","t":25.0,"l":-1.6,"h":4.2},{"p":"d","k":"l","t":25.7,"l":-1.8,"h":4.6},{"p":"d","k":"l","t":26.5,"l":-1.7,"h":4.3},{"p":"d","k":"l","t":27.2,"l":-1.6,"h":4.5},{"p":"d","k":"l","t":27.9,"l":-1.7,"h":4.1},{"p":"d","k":"l","t":28.6,"l":-1.8,"h":4.6},{"p":"d","k":"l","t":29.3,"l":-1.6,"h":4.4},{"p":"d","k":"l","t":30.1,"l":-1.7,"h":4.3},{"p":"d","k":"l","t":30.8,"l":-1.6,"h":4.5},{"p":"d","k":"l","t":31.5,"l":-1.7,"h":4.2},{"p":"d","k":"l","t":32.2,"l":-1.6,"h":4.6},{"p":"d","k":"l","t":32.9,"l":-1.7,"h":4.4},{"p":"d","k":"l","t":33.7,"l":-1.6,"h":4.3},{"p":"d","k":"l","t":34.4,"l":-1.7,"h":4.5},{"p":"d","k":"l","t":35.1,"l":-1.6,"h":4.2},{"p":"d","k":"l","t":35.8,"l":-1.6,"h":4.6},
{"p":"d","k":"m","t":24.6,"l":-1.3,"h":3.8},{"p":"d","k":"m","t":25.6,"l":-1.4,"h":3.4},{"p":"d","k":"m","t":26.5,"l":-1.3,"h":4.0},{"p":"d","k":"m","t":27.5,"l":-1.5,"h":3.6},{"p":"d","k":"m","t":28.4,"l":-1.4,"h":4.1},{"p":"d","k":"m","t":29.4,"l":-1.3,"h":3.5},{"p":"d","k":"m","t":30.3,"l":-1.4,"h":3.9},{"p":"d","k":"m","t":31.3,"l":-1.5,"h":3.7},{"p":"d","k":"m","t":32.2,"l":-1.3,"h":4.2},{"p":"d","k":"m","t":33.2,"l":-1.4,"h":3.6},{"p":"d","k":"m","t":34.1,"l":-1.3,"h":4.0},{"p":"d","k":"m","t":35.1,"l":-1.4,"h":3.8},
{"p":"d","k":"d","t":25.1,"l":-0.9,"h":2.2},{"p":"d","k":"d","t":26.8,"l":-1.0,"h":2.8},{"p":"d","k":"d","t":28.9,"l":-0.8,"h":2.5},{"p":"d","k":"d","t":30.6,"l":-1.1,"h":3.0},{"p":"d","k":"d","t":32.7,"l":-0.9,"h":2.6},{"p":"d","k":"d","t":34.9,"l":-1.0,"h":2.9},
{"p":"d","k":"l","t":36.3,"l":-2.0,"h":5.5},{"p":"d","k":"l","t":37.0,"l":-2.1,"h":5.0},{"p":"d","k":"l","t":37.7,"l":-2.2,"h":5.2},{"p":"d","k":"l","t":38.5,"l":-2.0,"h":4.9},{"p":"d","k":"l","t":39.2,"l":-2.1,"h":5.3},{"p":"d","k":"l","t":39.9,"l":-2.2,"h":5.1},{"p":"d","k":"l","t":40.6,"l":-2.0,"h":4.9},{"p":"d","k":"l","t":41.3,"l":-2.1,"h":5.2},{"p":"d","k":"l","t":42.1,"l":-2.0,"h":5.0},{"p":"d","k":"l","t":42.8,"l":-2.2,"h":5.3},{"p":"d","k":"l","t":43.5,"l":-2.1,"h":4.9},{"p":"d","k":"l","t":44.2,"l":-2.0,"h":5.1},{"p":"d","k":"l","t":44.9,"l":-2.1,"h":5.0},{"p":"d","k":"l","t":45.7,"l":-2.2,"h":4.9},{"p":"d","k":"l","t":46.4,"l":-2.0,"h":5.2},{"p":"d","k":"l","t":47.1,"l":-2.1,"h":5.1},{"p":"d","k":"l","t":47.8,"l":-2.0,"h":4.9},
{"p":"d","k":"m","t":36.5,"l":-1.8,"h":4.4},{"p":"d","k":"m","t":37.5,"l":-1.9,"h":4.5},{"p":"d","k":"m","t":38.5,"l":-1.8,"h":4.3},{"p":"d","k":"m","t":39.4,"l":-1.9,"h":4.6},{"p":"d","k":"m","t":40.4,"l":-1.8,"h":4.4},{"p":"d","k":"m","t":41.4,"l":-1.9,"h":4.5},{"p":"d","k":"m","t":42.3,"l":-1.8,"h":4.3},{"p":"d","k":"m","t":43.3,"l":-1.9,"h":4.6},{"p":"d","k":"m","t":44.3,"l":-1.8,"h":4.4},{"p":"d","k":"m","t":45.2,"l":-1.9,"h":4.5},{"p":"d","k":"m","t":46.2,"l":-1.8,"h":4.3},{"p":"d","k":"m","t":47.2,"l":-1.9,"h":4.6},
{"p":"d","k":"d","t":36.6,"l":-1.0,"h":1.6},{"p":"d","k":"d","t":37.4,"l":-1.8,"h":3.0},{"p":"d","k":"d","t":38.2,"l":-1.5,"h":4.2},{"p":"d","k":"d","t":39.0,"l":-1.9,"h":2.5},{"p":"d","k":"d","t":39.8,"l":-1.2,"h":3.8},{"p":"d","k":"d","t":40.6,"l":-1.8,"h":4.3},{"p":"d","k":"d","t":41.4,"l":-1.6,"h":2.8},{"p":"d","k":"d","t":42.2,"l":-1.9,"h":4.0},{"p":"d","k":"d","t":43.0,"l":-1.4,"h":3.6},{"p":"d","k":"d","t":43.8,"l":-1.8,"h":4.4},{"p":"d","k":"d","t":44.6,"l":-1.7,"h":3.2},{"p":"d","k":"d","t":45.4,"l":-1.9,"h":4.1},{"p":"d","k":"d","t":46.2,"l":-1.5,"h":3.9},{"p":"d","k":"d","t":47.0,"l":-1.8,"h":4.4},{"p":"d","k":"d","t":47.7,"l":-1.9,"h":3.7}
],
"vl":[{"t":0},{"t":12},{"t":24},{"t":36},{"t":48}],
"hz":[{"t":6,"y":10.3,"lab":"2Hz"},{"t":18,"y":10.3,"lab":"4Hz"},{"t":30,"y":10.3,"lab":"6Hz"},{"t":42,"y":10.3,"lab":"8Hz"}],
"let":[{"p":"a","t":0.4,"y":-4.4,"lab":"(a)"},{"p":"b","t":0.4,"y":-4.4,"lab":"(b)"},{"p":"c","t":0.4,"y":-4.4,"lab":"(c)"},{"p":"d","t":0.4,"y":-4.4,"lab":"(d)"}]
},
"columns":2,
"spacing":{"row":0,"column":6},
"concat":[
{"width":236,"height":166,"layer":[
{"data":{"name":"env"},"transform":[{"filter":"datum.p=='a'"}],"mark":{"type":"area","color":"#c2c2c2"},"encoding":{"x":{"field":"t","type":"quantitative","scale":{"domain":[-2.3,50],"nice":false,"zero":false},"axis":{"title":"Time(s)","tickCount":60,"format":"d","labelOverlap":false,"values":[0,5,10,15,20,25,30,35,40,45,50],"labelExpr":"datum.value % 10 === 0 ? datum.label : ''","tickSize":{"condition":{"test":"datum.value % 10 === 0","value":4},"value":2}}},"y":{"field":"h","type":"quantitative","scale":{"domain":[-6,11.2],"nice":false,"zero":false},"axis":{"title":"Voltage(V)","tickCount":60,"format":"d","labelOverlap":false,"values":[-6,-5,-4,-3,-2,-1,0,1,2,3,4,5,6,7,8,9,10],"labelExpr":"datum.value % 2 === 0 ? datum.label : ''","tickSize":{"condition":{"test":"datum.value % 2 === 0","value":4},"value":2}}},"y2":{"field":"l"},"detail":{"field":"g"}}},
{"data":{"name":"env"},"transform":[{"filter":"datum.p=='a'"}],"mark":{"type":"area","color":"#7e7e7e"},"encoding":{"x":{"field":"t","type":"quantitative"},"y":{"field":"h2","type":"quantitative"},"y2":{"field":"l2"},"detail":{"field":"g"}}},
{"data":{"name":"spk"},"transform":[{"filter":"datum.p=='a' && datum.k=='l'"}],"mark":{"type":"rule","color":"#a6a6a6","strokeWidth":1.2},"encoding":{"x":{"field":"t","type":"quantitative"},"y":{"field":"l","type":"quantitative"},"y2":{"field":"h"}}},
{"data":{"name":"spk"},"transform":[{"filter":"datum.p=='a' && datum.k=='m'"}],"mark":{"type":"rule","color":"#5e5e5e","strokeWidth":1},"encoding":{"x":{"field":"t","type":"quantitative"},"y":{"field":"l","type":"quantitative"},"y2":{"field":"h"}}},
{"data":{"name":"spk"},"transform":[{"filter":"datum.p=='a' && datum.k=='d'"}],"mark":{"type":"rule","color":"#000000","strokeWidth":1.4},"encoding":{"x":{"field":"t","type":"quantitative"},"y":{"field":"l","type":"quantitative"},"y2":{"field":"h"}}},
{"data":{"name":"env"},"transform":[{"filter":"datum.p=='a'"}],"mark":{"type":"line","color":"#111111","strokeWidth":1.5},"encoding":{"x":{"field":"t","type":"quantitative"},"y":{"field":"z","type":"quantitative"},"detail":{"field":"g"}}},
{"data":{"name":"vl"},"mark":{"type":"rule","color":"#ff5555","strokeDash":[3,2],"strokeWidth":1},"encoding":{"x":{"field":"t","type":"quantitative"}}},
{"data":{"name":"hz"},"mark":{"type":"text","font":"Liberation Serif","fontWeight":"bold","fontSize":9.5,"color":"#111"},"encoding":{"x":{"field":"t","type":"quantitative"},"y":{"field":"y","type":"quantitative"},"text":{"field":"lab"}}},
{"data":{"name":"let"},"transform":[{"filter":"datum.p=='a'"}],"mark":{"type":"text","font":"Liberation Serif","fontWeight":"bold","fontSize":18,"align":"left","baseline":"middle","color":"#000"},"encoding":{"x":{"field":"t","type":"quantitative"},"y":{"field":"y","type":"quantitative"},"text":{"field":"lab"}}}
]},
{"width":236,"height":166,"layer":[
{"data":{"name":"env"},"transform":[{"filter":"datum.p=='b'"}],"mark":{"type":"area","color":"#ffb3b3"},"encoding":{"x":{"field":"t","type":"quantitative","scale":{"domain":[-2.3,50],"nice":false,"zero":false},"axis":{"title":"Time(s)","tickCount":60,"format":"d","labelOverlap":false,"values":[0,5,10,15,20,25,30,35,40,45,50],"labelExpr":"datum.value % 10 === 0 ? datum.label : ''","tickSize":{"condition":{"test":"datum.value % 10 === 0","value":4},"value":2}}},"y":{"field":"h","type":"quantitative","scale":{"domain":[-6,11.2],"nice":false,"zero":false},"axis":{"title":"Voltage(V)","tickCount":60,"format":"d","labelOverlap":false,"values":[-6,-5,-4,-3,-2,-1,0,1,2,3,4,5,6,7,8,9,10],"labelExpr":"datum.value % 2 === 0 ? datum.label : ''","tickSize":{"condition":{"test":"datum.value % 2 === 0","value":4},"value":2}}},"y2":{"field":"l"},"detail":{"field":"g"}}},
{"data":{"name":"env"},"transform":[{"filter":"datum.p=='b'"}],"mark":{"type":"area","color":"#ff1a1a"},"encoding":{"x":{"field":"t","type":"quantitative"},"y":{"field":"h2","type":"quantitative"},"y2":{"field":"l2"},"detail":{"field":"g"}}},
{"data":{"name":"spk"},"transform":[{"filter":"datum.p=='b' && datum.k=='l'"}],"mark":{"type":"rule","color":"#ff9090","strokeWidth":1.2},"encoding":{"x":{"field":"t","type":"quantitative"},"y":{"field":"l","type":"quantitative"},"y2":{"field":"h"}}},
{"data":{"name":"spk"},"transform":[{"filter":"datum.p=='b' && datum.k=='m'"}],"mark":{"type":"rule","color":"#ff3b3b","strokeWidth":1},"encoding":{"x":{"field":"t","type":"quantitative"},"y":{"field":"l","type":"quantitative"},"y2":{"field":"h"}}},
{"data":{"name":"spk"},"transform":[{"filter":"datum.p=='b' && datum.k=='d'"}],"mark":{"type":"rule","color":"#e00000","strokeWidth":1.2},"encoding":{"x":{"field":"t","type":"quantitative"},"y":{"field":"l","type":"quantitative"},"y2":{"field":"h"}}},
{"data":{"name":"env"},"transform":[{"filter":"datum.p=='b'"}],"mark":{"type":"line","color":"#ff4040","strokeWidth":1.2},"encoding":{"x":{"field":"t","type":"quantitative"},"y":{"field":"z","type":"quantitative"},"detail":{"field":"g"}}},
{"data":{"name":"vl"},"mark":{"type":"rule","color":"#ff5555","strokeDash":[3,2],"strokeWidth":1},"encoding":{"x":{"field":"t","type":"quantitative"}}},
{"data":{"name":"hz"},"mark":{"type":"text","font":"Liberation Serif","fontWeight":"bold","fontSize":9.5,"color":"#111"},"encoding":{"x":{"field":"t","type":"quantitative"},"y":{"field":"y","type":"quantitative"},"text":{"field":"lab"}}},
{"data":{"name":"let"},"transform":[{"filter":"datum.p=='b'"}],"mark":{"type":"text","font":"Liberation Serif","fontWeight":"bold","fontSize":18,"align":"left","baseline":"middle","color":"#000"},"encoding":{"x":{"field":"t","type":"quantitative"},"y":{"field":"y","type":"quantitative"},"text":{"field":"lab"}}}
]},
{"width":236,"height":166,"layer":[
{"data":{"name":"env"},"transform":[{"filter":"datum.p=='c'"}],"mark":{"type":"area","color":"#b9b9ff"},"encoding":{"x":{"field":"t","type":"quantitative","scale":{"domain":[-2.3,50],"nice":false,"zero":false},"axis":{"title":"Time(s)","tickCount":60,"format":"d","labelOverlap":false,"values":[0,5,10,15,20,25,30,35,40,45,50],"labelExpr":"datum.value % 10 === 0 ? datum.label : ''","tickSize":{"condition":{"test":"datum.value % 10 === 0","value":4},"value":2}}},"y":{"field":"h","type":"quantitative","scale":{"domain":[-6,11.2],"nice":false,"zero":false},"axis":{"title":"Voltage(V)","tickCount":60,"format":"d","labelOverlap":false,"values":[-6,-5,-4,-3,-2,-1,0,1,2,3,4,5,6,7,8,9,10],"labelExpr":"datum.value % 2 === 0 ? datum.label : ''","tickSize":{"condition":{"test":"datum.value % 2 === 0","value":4},"value":2}}},"y2":{"field":"l"},"detail":{"field":"g"}}},
{"data":{"name":"env"},"transform":[{"filter":"datum.p=='c'"}],"mark":{"type":"area","color":"#5050ff"},"encoding":{"x":{"field":"t","type":"quantitative"},"y":{"field":"h2","type":"quantitative"},"y2":{"field":"l2"},"detail":{"field":"g"}}},
{"data":{"name":"spk"},"transform":[{"filter":"datum.p=='c' && datum.k=='l'"}],"mark":{"type":"rule","color":"#9a9aff","strokeWidth":1.2},"encoding":{"x":{"field":"t","type":"quantitative"},"y":{"field":"l","type":"quantitative"},"y2":{"field":"h"}}},
{"data":{"name":"spk"},"transform":[{"filter":"datum.p=='c' && datum.k=='m'"}],"mark":{"type":"rule","color":"#4040ff","strokeWidth":1},"encoding":{"x":{"field":"t","type":"quantitative"},"y":{"field":"l","type":"quantitative"},"y2":{"field":"h"}}},
{"data":{"name":"spk"},"transform":[{"filter":"datum.p=='c' && datum.k=='d'"}],"mark":{"type":"rule","color":"#0000c8","strokeWidth":1.4},"encoding":{"x":{"field":"t","type":"quantitative"},"y":{"field":"l","type":"quantitative"},"y2":{"field":"h"}}},
{"data":{"name":"env"},"transform":[{"filter":"datum.p=='c'"}],"mark":{"type":"line","color":"#0000e0","strokeWidth":1.8},"encoding":{"x":{"field":"t","type":"quantitative"},"y":{"field":"z","type":"quantitative"},"detail":{"field":"g"}}},
{"data":{"name":"vl"},"mark":{"type":"rule","color":"#ff5555","strokeDash":[3,2],"strokeWidth":1},"encoding":{"x":{"field":"t","type":"quantitative"}}},
{"data":{"name":"hz"},"mark":{"type":"text","font":"Liberation Serif","fontWeight":"bold","fontSize":9.5,"color":"#111"},"encoding":{"x":{"field":"t","type":"quantitative"},"y":{"field":"y","type":"quantitative"},"text":{"field":"lab"}}},
{"data":{"name":"let"},"transform":[{"filter":"datum.p=='c'"}],"mark":{"type":"text","font":"Liberation Serif","fontWeight":"bold","fontSize":18,"align":"left","baseline":"middle","color":"#000"},"encoding":{"x":{"field":"t","type":"quantitative"},"y":{"field":"y","type":"quantitative"},"text":{"field":"lab"}}}
]},
{"width":236,"height":166,"layer":[
{"data":{"name":"env"},"transform":[{"filter":"datum.p=='d'"}],"mark":{"type":"area","color":"#b8deb8"},"encoding":{"x":{"field":"t","type":"quantitative","scale":{"domain":[-2.3,50],"nice":false,"zero":false},"axis":{"title":"Time(s)","tickCount":60,"format":"d","labelOverlap":false,"values":[0,5,10,15,20,25,30,35,40,45,50],"labelExpr":"datum.value % 10 === 0 ? datum.label : ''","tickSize":{"condition":{"test":"datum.value % 10 === 0","value":4},"value":2}}},"y":{"field":"h","type":"quantitative","scale":{"domain":[-6,11.2],"nice":false,"zero":false},"axis":{"title":"Voltage(V)","tickCount":60,"format":"d","labelOverlap":false,"values":[-6,-5,-4,-3,-2,-1,0,1,2,3,4,5,6,7,8,9,10],"labelExpr":"datum.value % 2 === 0 ? datum.label : ''","tickSize":{"condition":{"test":"datum.value % 2 === 0","value":4},"value":2}}},"y2":{"field":"l"},"detail":{"field":"g"}}},
{"data":{"name":"env"},"transform":[{"filter":"datum.p=='d'"}],"mark":{"type":"area","color":"#58b058"},"encoding":{"x":{"field":"t","type":"quantitative"},"y":{"field":"h2","type":"quantitative"},"y2":{"field":"l2"},"detail":{"field":"g"}}},
{"data":{"name":"spk"},"transform":[{"filter":"datum.p=='d' && datum.k=='l'"}],"mark":{"type":"rule","color":"#a0d2a0","strokeWidth":1.2},"encoding":{"x":{"field":"t","type":"quantitative"},"y":{"field":"l","type":"quantitative"},"y2":{"field":"h"}}},
{"data":{"name":"spk"},"transform":[{"filter":"datum.p=='d' && datum.k=='m'"}],"mark":{"type":"rule","color":"#3a9a3a","strokeWidth":1},"encoding":{"x":{"field":"t","type":"quantitative"},"y":{"field":"l","type":"quantitative"},"y2":{"field":"h"}}},
{"data":{"name":"spk"},"transform":[{"filter":"datum.p=='d' && datum.k=='d'"}],"mark":{"type":"rule","color":"#007000","strokeWidth":1.4},"encoding":{"x":{"field":"t","type":"quantitative"},"y":{"field":"l","type":"quantitative"},"y2":{"field":"h"}}},
{"data":{"name":"env"},"transform":[{"filter":"datum.p=='d'"}],"mark":{"type":"line","color":"#108a10","strokeWidth":1.5},"encoding":{"x":{"field":"t","type":"quantitative"},"y":{"field":"z","type":"quantitative"},"detail":{"field":"g"}}},
{"data":{"name":"vl"},"mark":{"type":"rule","color":"#ff5555","strokeDash":[3,2],"strokeWidth":1},"encoding":{"x":{"field":"t","type":"quantitative"}}},
{"data":{"name":"hz"},"mark":{"type":"text","font":"Liberation Serif","fontWeight":"bold","fontSize":9.5,"color":"#111"},"encoding":{"x":{"field":"t","type":"quantitative"},"y":{"field":"y","type":"quantitative"},"text":{"field":"lab"}}},
{"data":{"name":"let"},"transform":[{"filter":"datum.p=='d'"}],"mark":{"type":"text","font":"Liberation Serif","fontWeight":"bold","fontSize":18,"align":"left","baseline":"middle","color":"#000"},"encoding":{"x":{"field":"t","type":"quantitative"},"y":{"field":"y","type":"quantitative"},"text":{"field":"lab"}}}
]}
]
}
